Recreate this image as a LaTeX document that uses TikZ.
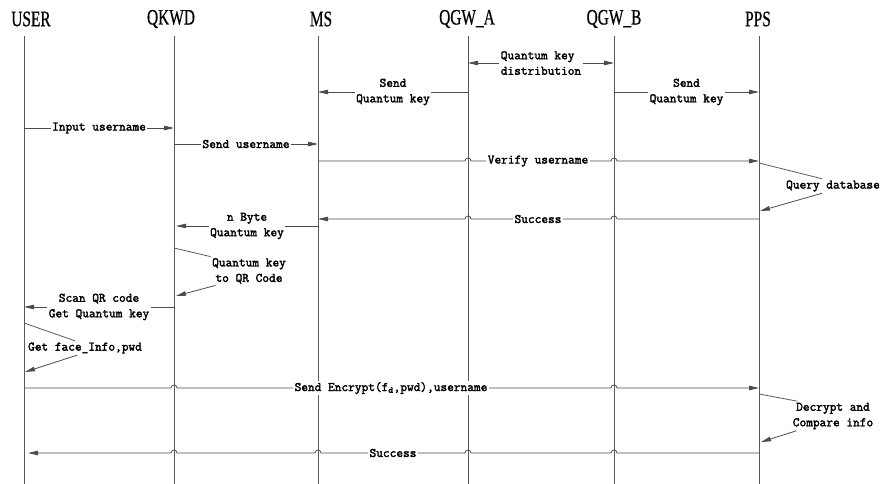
\documentclass[tikz,border=0pt]{standalone}
\usepackage{fontspec}
\setmainfont{Liberation Serif}
\newfontfamily\lblfont[FakeBold=2.2]{Latin Modern Mono}
\newfontfamily\ttlfont[FakeBold=0.8]{Liberation Serif}
\usetikzlibrary{arrows.meta}

\tikzset{
  ttl/.style={font=\ttlfont\fontsize{22}{22}\selectfont, inner sep=0pt},
  life/.style={draw=black!65, line width=0.8pt},
  msg/.style={draw=black!70, line width=0.8pt, -{Triangle[length=10pt,width=4.5pt]}},
  lbl/.style={fill=white, font=\lblfont\fontsize{13}{15.5}\selectfont, inner sep=1.5pt, align=center},
  note/.style={lbl, fill=none},
}

\begin{document}
\begin{tikzpicture}[x=1pt,y=1pt]
\useasboundingbox (0,0) rectangle (883,-484);

% titles
\node[ttl] (t_user) at (31,-19) {\scalebox{0.7}[1]{USER}};
\node[ttl] (t_qkwd) at (171,-19) {\scalebox{0.7}[1]{QKWD}};
\node[ttl] (t_ms) at (321,-19) {\scalebox{0.7}[1]{MS}};
\node[ttl] (t_qgwa) at (467,-19) {\scalebox{0.7}[1]{QGW\_A}};
\node[ttl] (t_qgwb) at (614,-19) {\scalebox{0.7}[1]{QGW\_B}};
\node[ttl] (t_pps) at (758,-19) {\scalebox{0.7}[1]{PPS}};

% lifelines
\coordinate (user) at (24,-36);
\coordinate (qkwd) at (174,-36);
\coordinate (ms) at (318,-36);
\coordinate (qgwa) at (468,-36);
\coordinate (qgwb) at (614,-36);
\coordinate (pps) at (759,-36);
\foreach \c in {user,qkwd,ms,qgwa,qgwb,pps}
  \draw[life] (\c) -- (\c |- 0,-484);

% key distribution
\draw[msg, {Triangle[length=10pt,width=4.5pt]}-{Triangle[length=10pt,width=4.5pt]}]
  (qgwa |- 0,-63) -- (qgwb |- 0,-63) node[lbl, midway, align=left] (qkd) {Quantum key\\distribution};
\draw[msg] (qgwa |- 0,-92) -- (ms |- 0,-92) node[lbl, midway] (sqk_a) {Send\\Quantum key};
\draw[msg] (qgwb |- 0,-92) -- (pps |- 0,-92) node[lbl, midway] (sqk_b) {Send\\Quantum key};

% username
\draw[msg] (user |- 0,-128) -- (qkwd |- 0,-128) node[lbl, midway] (inp) {Input username};
\draw[msg] (qkwd |- 0,-144) -- (ms |- 0,-144) node[lbl, midway] (snd) {Send username};
\draw[msg] (ms |- 0,-161)
  -- ([xshift=-3pt]qgwa |- 0,-161) arc[start angle=180, end angle=0, radius=3pt]
  -- ([xshift=-3pt]qgwb |- 0,-161) arc[start angle=180, end angle=0, radius=3pt]
  -- (pps |- 0,-161);
\node[lbl] (vfy) at (538,-161) {Verify username};

\node[note] (qdb) at (833,-186) {Query database};
\draw[life] (pps |- 0,-163) -- ([xshift=-11pt]qdb.north);
\draw[msg] ([xshift=-11pt]qdb.south) -- ([xshift=1pt]pps |- 0,-211);

\draw[msg] (pps |- 0,-219)
  -- ([xshift=3pt]qgwb |- 0,-219) arc[start angle=0, end angle=180, radius=3pt]
  -- ([xshift=3pt]qgwa |- 0,-219) arc[start angle=0, end angle=180, radius=3pt]
  -- (ms |- 0,-219);
\node[lbl] (ok_1) at (538,-219) {Success};

% quantum key to user
\draw[msg] (ms |- 0,-226) -- ([xshift=2pt]qkwd |- 0,-226) node[lbl, midway] (nbyte) {n Byte\\Quantum key};

\node[note] (qr) at (249,-271) {Quantum key\\to QR Code};
\draw[life] (qkwd |- 0,-248) -- (qr.north west);
\draw[msg] ([xshift=5pt]qr.south west) -- ([xshift=2pt]qkwd |- 0,-296);

\draw[msg] (qkwd |- 0,-307) -- (user |- 0,-307) node[lbl, midway] (scan) {Scan QR code\\Get Quantum key};

\node[note] (face) at (85,-348) {Get face\_Info,pwd};
\draw[life] (user |- 0,-323) -- ([xshift=-10pt]face.north);
\draw[msg] ([xshift=-8pt]face.south) -- ([xshift=1pt]user |- 0,-372);

% login
\draw[msg] (user |- 0,-388)
  -- ([xshift=-3pt]qkwd |- 0,-388) arc[start angle=180, end angle=0, radius=3pt]
  -- ([xshift=-3pt]qgwb |- 0,-388) arc[start angle=180, end angle=0, radius=3pt]
  -- (pps |- 0,-388);
\node[lbl] (enc) at (391,-388) {Send Encrypt(f\textsubscript{d},pwd),username};

\node[note] (dec) at (833,-416) {Decrypt and\\Compare info};
\draw[life] (pps |- 0,-394) -- ([xshift=6pt]dec.north west);
\draw[msg] ([xshift=5pt]dec.south west) -- ([xshift=2pt]pps |- 0,-442);

\draw[msg] (pps |- 0,-453)
  -- ([xshift=3pt]qgwb |- 0,-453) arc[start angle=0, end angle=180, radius=3pt]
  -- ([xshift=3pt]qgwa |- 0,-453) arc[start angle=0, end angle=180, radius=3pt]
  -- ([xshift=3pt]ms |- 0,-453) arc[start angle=0, end angle=180, radius=3pt]
  -- ([xshift=3pt]qkwd |- 0,-453) arc[start angle=0, end angle=180, radius=3pt]
  -- ([xshift=4pt]user |- 0,-453);
\node[lbl] (ok_2) at (393,-453) {Success};
\end{tikzpicture}
\end{document}
